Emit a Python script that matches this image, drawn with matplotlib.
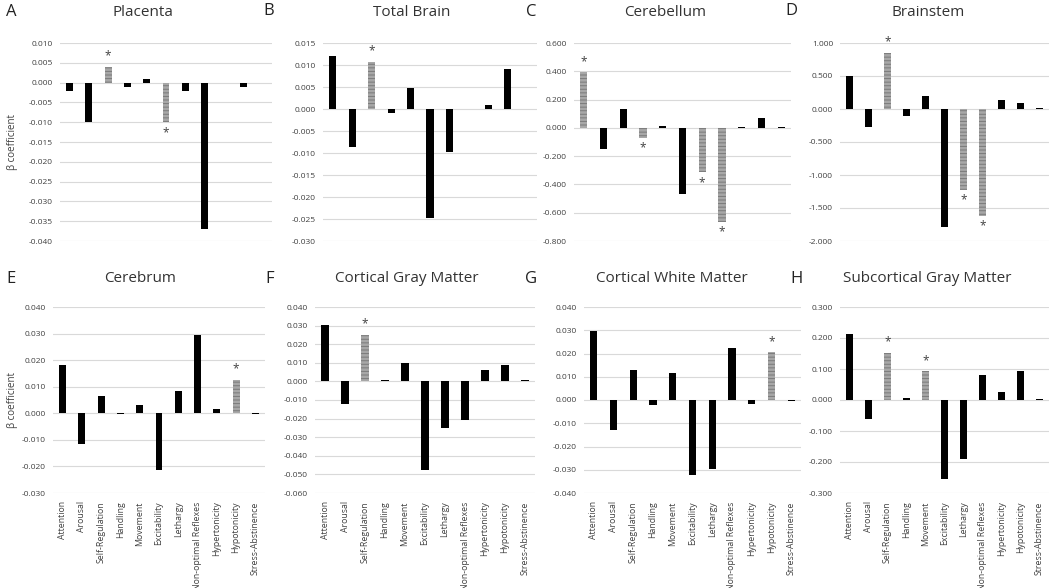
import matplotlib
matplotlib.use("Agg")
import matplotlib.pyplot as plt
import numpy as np

plt.rcParams['font.family'] = ['Open Sans', 'DejaVu Sans']
plt.rcParams['hatch.linewidth'] = 0.7

categories = ["Attention", "Arousal", "Self-Regulation", "Handling", "Movement",
              "Excitability", "Lethargy", "Non-optimal Reflexes", "Hypertonicity",
              "Hypotonicity", "Stress-Abstinence"]

titles = ["Placenta", "Total Brain", "Cerebellum", "Brainstem",
          "Cerebrum", "Cortical Gray Matter", "Cortical White Matter", "Subcortical Gray Matter"]
letters = ["A", "B", "C", "D", "E", "F", "G", "H"]

placenta = [-0.002, -0.010, 0.004, -0.001, 0.001, -0.010, -0.002, -0.037, 0.0, -0.001, 0.0]
total_brain = [0.0121, -0.0087, 0.0107, -0.0008, 0.0048, -0.0248, -0.0098, 0.0001, 0.0008, 0.0091, 0.0001]
cerebellum = [0.395, -0.148, 0.130, -0.070, 0.010, -0.470, -0.315, -0.665, 0.008, 0.070, 0.003]
brainstem = [0.50, -0.27, 0.85, -0.10, 0.19, -1.79, -1.22, -1.62, 0.13, 0.09, 0.01]
cerebrum = [0.0183, -0.0115, 0.0066, -0.0004, 0.0033, -0.0213, 0.0085, 0.0294, 0.0017, 0.0127, -0.0004]
cortical_gray = [0.0302, -0.0122, 0.0250, 0.0006, 0.0098, -0.0477, -0.0250, -0.0205, 0.0062, 0.0088, 0.0005]
cortical_white = [0.0298, -0.0127, 0.0127, -0.0020, 0.0115, -0.0322, -0.0298, 0.0225, -0.0016, 0.0205, -0.0004]
subcortical_gray = [0.212, -0.062, 0.152, 0.007, 0.093, -0.255, -0.190, 0.082, 0.026, 0.092, 0.004]

# indices of significant (hatched, starred) bars
sig_placenta = [2, 5]
sig_total_brain = [2]
sig_cerebellum = [0, 3, 6, 7]
sig_brainstem = [2, 6, 7]
sig_cerebrum = [9]
sig_cortical_gray = [2]
sig_cortical_white = [9]
sig_subcortical_gray = [2, 4]

ylims = [(-0.040, 0.010, 0.005), (-0.030, 0.015, 0.005), (-0.800, 0.600, 0.200), (-2.000, 1.000, 0.500),
         (-0.030, 0.040, 0.010), (-0.060, 0.040, 0.010), (-0.040, 0.040, 0.010), (-0.300, 0.300, 0.100)]

series = [placenta, total_brain, cerebellum, brainstem, cerebrum, cortical_gray, cortical_white, subcortical_gray]
sigs = [sig_placenta, sig_total_brain, sig_cerebellum, sig_brainstem, sig_cerebrum,
        sig_cortical_gray, sig_cortical_white, sig_subcortical_gray]

W, H = 1050, 588
fig = plt.figure(figsize=(W / 100, H / 100), dpi=100)

# axes boxes in pixels: left, right, top, bottom
boxes = [(60, 272, 43, 241), (323, 537, 43, 241), (574, 791, 43, 241), (840, 1049, 43, 241),
         (53, 265, 307, 493), (315, 535, 307, 493), (584, 801, 307, 493), (840, 1049, 307, 493)]
title_pos = [(143, 13), (412, 13), (665, 13), (928, 12), (140, 279), (407, 279), (672, 279), (927, 279)]
letter_pos = [(11, 12), (269, 11), (531, 12), (791, 11), (11, 279), (270, 279), (531, 279), (796, 279)]

x = np.arange(len(categories))
for i in range(8):
    l, r, t, b = boxes[i]
    ax = fig.add_axes([l / W, 1 - b / H, (r - l) / W, (b - t) / H])
    vals = np.array(series[i])
    for j, v in enumerate(vals):
        if j in sigs[i]:
            ax.bar(j, v, width=0.36, color='#e8e8e8', edgecolor='#7a7a7a', hatch='-' * 12,
                   linewidth=0, zorder=3)
            ax.annotate('*', (j, v), xytext=(0, 3 if v > 0 else -12), textcoords='offset points',
                        ha='center', va='bottom', fontsize=8.5, color='#404040')
        else:
            ax.bar(j, v, width=0.36, color='black', zorder=3)
    lo, hi, step = ylims[i]
    ax.set_ylim(lo, hi)
    ax.set_xlim(-0.5, len(categories) - 0.5)
    ticks = np.arange(lo, hi + step / 2, step)
    ax.set_yticks(ticks)
    ax.set_yticklabels([f"{tk:.3f}" if abs(tk) > 1e-9 else "0.000" for tk in ticks], fontsize=6, color='#404040')
    ax.yaxis.grid(True, color='#d9d9d9', linewidth=0.8, zorder=0)
    ax.set_axisbelow(True)
    for s in ax.spines.values():
        s.set_visible(False)
    ax.tick_params(axis='y', length=0, pad=5)
    ax.tick_params(axis='x', length=0)
    if i >= 4:
        ax.set_xticks(x)
        ax.set_xticklabels(categories, rotation=90, fontsize=6.3, color='#404040')
        ax.tick_params(axis='x', pad=6)
    else:
        ax.set_xticks([])
    fig.text(title_pos[i][0] / W, 1 - title_pos[i][1] / H, titles[i], ha='center', va='center',
             fontsize=11, color='#333333')
    fig.text(letter_pos[i][0] / W, 1 - letter_pos[i][1] / H, letters[i], ha='center', va='center',
             fontsize=12, color='#222222')

fig.text(12 / W, 1 - 142 / H, "β coefficient", rotation=90, ha='center', va='center', fontsize=7, color='#404040')
fig.text(12 / W, 1 - 400 / H, "β coefficient", rotation=90, ha='center', va='center', fontsize=7, color='#404040')

fig.savefig("out.png", dpi=100)
